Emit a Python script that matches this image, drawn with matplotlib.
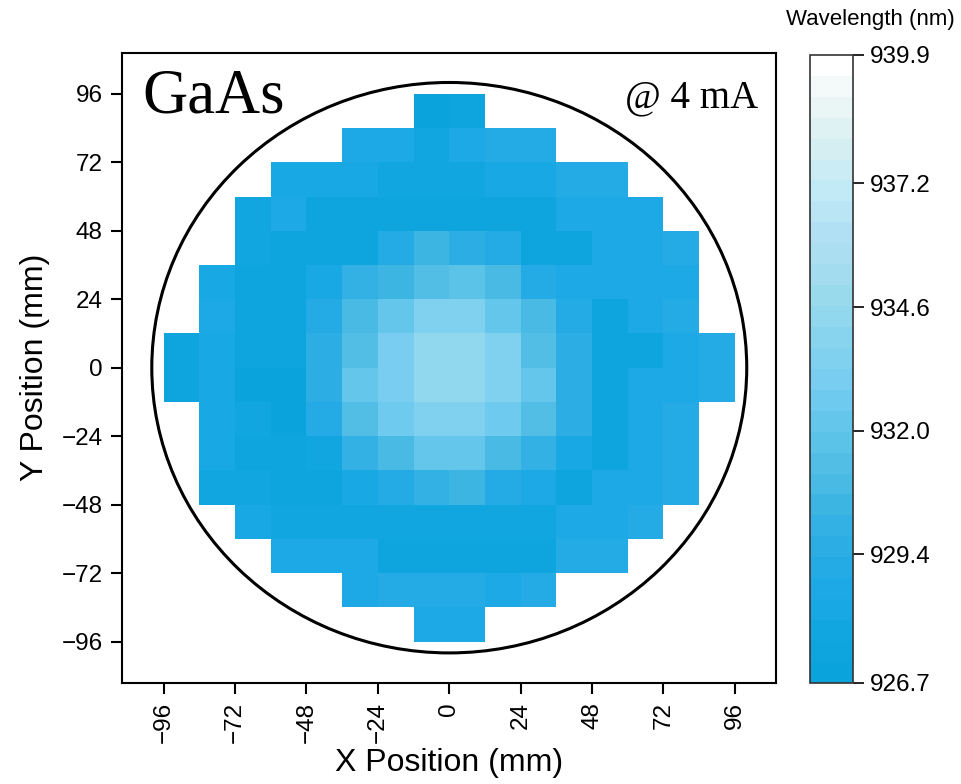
import numpy as np
import matplotlib
matplotlib.use("Agg")
import matplotlib.pyplot as plt
from matplotlib.colors import LinearSegmentedColormap, BoundaryNorm
from matplotlib.patches import Circle

plt.rcParams['font.family'] = ['Liberation Sans', 'DejaVu Sans']

# die grid: 16 x 16 cells of 12 mm, edges from -96 to 96 mm
cell_edges = np.arange(-96, 97, 12)

# wavelength per die (nm), row 0 is the top row (y 84..96), nan = no die
nan = np.nan
row00 = [nan]*7 + [927.1, 927.3] + [nan]*7
row01 = [nan]*5 + [928.5, 928.9, 927.8, 928.6, 929.0, 929.0] + [nan]*5
row02 = [nan]*3 + [928.4, 928.4, 928.4, 927.6, 927.6, 927.6, 928.3, 928.3, 929.0, 929.0] + [nan]*3
row03 = [nan]*2 + [927.6, 928.5, 927.3, 927.3, 927.3, 927.3, 927.3, 927.5, 927.5, 928.5, 928.7, 928.9] + [nan]*2
row04 = [nan]*2 + [927.6, 927.4, 927.3, 927.2, 929.0, 930.3, 929.4, 929.1, 927.3, 927.4, 928.6, 928.8, 929.0] + [nan]
row05 = [nan] + [928.4, 927.5, 927.4, 928.4, 929.9, 930.6, 931.4, 931.9, 930.9, 929.1, 928.5, 928.5, 928.6, 928.7] + [nan]
row06 = [nan] + [928.5, 927.4, 927.4, 929.3, 930.9, 932.2, 933.3, 933.3, 932.3, 930.9, 929.0, 927.5, 928.5, 929.2] + [nan]
row07 = [927.4, 928.3, 927.3, 927.3, 929.4, 931.4, 933.2, 934.2, 934.2, 933.3, 931.5, 929.6, 927.5, 927.5, 928.9, 929.0]
row08 = [927.3, 928.4, 927.1, 927.1, 929.5, 932.0, 933.2, 934.3, 934.3, 933.3, 932.0, 929.6, 927.5, 928.6, 928.6, 929.0]
row09 = [nan] + [928.4, 927.6, 927.1, 929.2, 931.1, 932.6, 933.3, 933.3, 932.6, 931.1, 929.6, 927.5, 928.6, 929.2] + [nan]
row10 = [nan] + [928.4, 927.3, 927.3, 927.6, 930.1, 930.7, 932.0, 932.0, 931.0, 930.1, 928.4, 927.5, 928.6, 929.2] + [nan]
row11 = [nan] + [927.6, 927.6, 927.3, 927.4, 928.4, 929.0, 930.2, 930.5, 929.1, 928.5, 927.5, 928.5, 928.7, 929.0] + [nan]
row12 = [nan]*2 + [928.4, 927.6, 927.6, 927.6, 927.6, 928.0, 927.6, 927.6, 927.6, 928.5, 928.8, 929.0] + [nan]*2
row13 = [nan]*3 + [928.6, 928.6, 928.6, 927.5, 927.5, 927.5, 927.5, 927.5, 929.0, 929.0] + [nan]*3
row14 = [nan]*5 + [928.6, 929.0, 929.0, 929.0, 928.9, 929.0] + [nan]*5
row15 = [nan]*7 + [928.7, 928.7] + [nan]*7

rows = [row00, row01, row02, row03, row04, row05, row06, row07,
        row08, row09, row10, row11, row12, row13, row14, row15]

wl_min, wl_max = 926.7, 939.9
cbar_ticks = [926.7, 929.4, 932.0, 934.6, 937.2, 939.9]
xy_ticks = [-96, -72, -48, -24, 0, 24, 48, 72, 96]
wafer_radius = 100

# colour ramp of the reference colour bar, low -> high
ramp = ['#0AA3DB', '#12A6E0', '#1CA9E5', '#2AADE5', '#3AB4E3', '#4FBDE4',
        '#5FC5E8', '#74CCF0', '#84D2EF', '#94D8EC', '#A6DDEE', '#B3E1F5',
        '#C4EBF6', '#D5EEF2', '#EAF6F5', '#FFFFFF']
n_bands = 30
cmap = LinearSegmentedColormap.from_list('wl', ramp, N=n_bands)
bounds = np.linspace(wl_min, wl_max, n_bands + 1)
norm = BoundaryNorm(bounds, n_bands)

data = np.ma.masked_invalid(np.array(rows)[::-1])

fig = plt.figure(figsize=(9.61, 7.84), dpi=100)
ax = fig.add_axes([0.127, 0.129, 0.681, 0.804])
cax = fig.add_axes([0.843, 0.129, 0.045, 0.801])

mesh = ax.pcolormesh(cell_edges, cell_edges, data, cmap=cmap, norm=norm)
ax.add_patch(Circle((0, 0), wafer_radius, fill=False, ec='black', lw=2.2))

ax.set_xlim(-110, 110)
ax.set_ylim(-110.5, 110.5)
ax.set_xticks(xy_ticks)
ax.set_yticks(xy_ticks)
ax.set_xticklabels([str(t) if t >= 0 else '\u2212' + str(-t) for t in xy_ticks], rotation=90)
ax.set_yticklabels([str(t) if t >= 0 else '\u2212' + str(-t) for t in xy_ticks])
ax.tick_params(direction='out', length=8, width=1.5, labelsize=17.5, pad=6)
for s in ax.spines.values():
    s.set_linewidth(1.5)
ax.set_xlabel('X Position (mm)', fontsize=23, labelpad=3)
ax.set_ylabel('Y Position (mm)', fontsize=23, labelpad=8)

ax.text(0.031, 0.905, 'GaAs', transform=ax.transAxes, fontsize=45,
        family='Liberation Serif', va='baseline', ha='left')
ax.text(0.972, 0.913, '@ 4 mA', transform=ax.transAxes, fontsize=28,
        family='Liberation Serif', va='baseline', ha='right')

cb = fig.colorbar(mesh, cax=cax, ticks=cbar_ticks, spacing='proportional')
cb.ax.minorticks_off()
cb.ax.set_yticklabels([f'{t:.1f}' for t in cbar_ticks])
cb.ax.tick_params(direction='out', length=8, width=1.2, labelsize=17.5, pad=4)
cb.outline.set_linewidth(1.2)
cb.outline.set_edgecolor('#333333')
fig.text(0.993, 0.975, 'Wavelength (nm)', fontsize=16, ha='right', va='center')

fig.savefig('out.png', dpi=100)
